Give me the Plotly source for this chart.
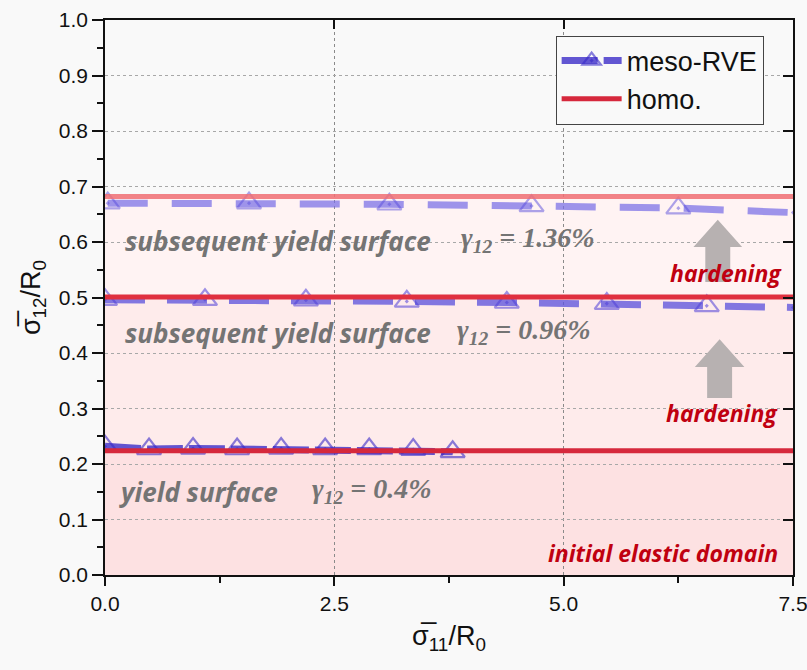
import plotly.graph_objects as go

# ---------------- data ----------------
# meso-RVE, gamma12 = 0.4 %
x_bot = [0.0, 0.48, 0.96, 1.44, 1.92, 2.40, 2.88, 3.36, 3.79]
y_bot = [0.232, 0.227, 0.228, 0.227, 0.228, 0.227, 0.227, 0.226, 0.222]
m_bot = [1, 1, 1, 1, 1, 1, 1, 1, 1]
# meso-RVE, gamma12 = 0.96 %
x_mid = [0.0, 1.09, 2.19, 3.29, 4.38, 5.47, 6.56, 7.5]
y_mid = [0.496, 0.496, 0.495, 0.493, 0.491, 0.489, 0.485, 0.482]
m_mid = [1, 1, 1, 1, 1, 1, 1, 0]
# meso-RVE, gamma12 = 1.36 %
x_top = [0.03, 1.57, 3.10, 4.65, 6.25, 7.5]
y_top = [0.670, 0.670, 0.668, 0.665, 0.661, 0.653]
m_top = [1, 1, 1, 1, 1, 0]
# homogenised yield levels
homo_x = [0.0, 7.5]
homo_levels = [0.224, 0.501, 0.682]

x_ticks = [0.0, 2.5, 5.0, 7.5]
y_ticks = [0.0, 0.1, 0.2, 0.3, 0.4, 0.5, 0.6, 0.7, 0.8, 0.9, 1.0]

BG = "#f9f9f9"
FONT = "Liberation Sans, Arial, sans-serif"

fig = go.Figure()

meso_sets = [
    (x_bot, y_bot, m_bot, "rgba(60,45,200,0.80)", "rgba(55,40,200,0.85)", "36px,6px", True),
    (x_mid, y_mid, m_mid, "rgba(95,85,220,0.78)", "rgba(80,65,215,0.80)", "40px,22px", False),
    (x_top, y_top, m_top, "rgba(120,110,230,0.72)", "rgba(90,80,220,0.72)", "40px,24px", False),
]
for xs, ys, ms, lc, mc, dash, show in meso_sets:
    fig.add_trace(go.Scatter(
        x=xs, y=ys, mode="lines+markers", name="meso-RVE",
        legendgroup="meso", showlegend=show,
        line=dict(color=lc, width=7, dash=dash),
        marker=dict(symbol="triangle-up-open-dot", size=[21 * m for m in ms],
                    color=mc, line=dict(color=mc, width=2.2)),
    ))

homo_colors = ["#d6283c", "#e0303f", "rgba(240,110,115,0.85)"]
for i, (lev, col) in enumerate(zip(homo_levels, homo_colors)):
    fig.add_trace(go.Scatter(
        x=homo_x, y=[lev, lev], mode="lines", name="homo.",
        legendgroup="homo", showlegend=(i == 0),
        line=dict(color=col, width=5),
    ))

# invisible trace for mirrored (inside-tick) axes
fig.add_trace(go.Scatter(x=[0], y=[0], xaxis="x2", yaxis="y2", mode="markers",
                         marker=dict(opacity=0), showlegend=False, hoverinfo="skip"))

# background shading bounded by homogenised levels
shade_cols = ["#fde1e2", "#feebeb", "#fff3f3"]
lower = [0.0] + homo_levels[:-1]
shapes = []
for lo, hi, c in zip(lower, homo_levels, shade_cols):
    shapes.append(dict(type="rect", xref="x", yref="y", x0=homo_x[0], x1=homo_x[1],
                       y0=lo, y1=hi, fillcolor=c, line=dict(width=0), layer="below"))


def up_arrow(xc, y_tip, y_head, y_base, hw, sw):
    p = (f"M{xc - sw},{y_base} L{xc - sw},{y_head} L{xc - hw},{y_head} L{xc},{y_tip} "
         f"L{xc + hw},{y_head} L{xc + sw},{y_head} L{xc + sw},{y_base} Z")
    return dict(type="path", xref="x", yref="y", path=p, fillcolor="#b7b1b1",
                line=dict(width=0), layer="above")


shapes.append(up_arrow(6.68, 0.640, 0.591, 0.528, 0.265, 0.136))
shapes.append(up_arrow(6.70, 0.425, 0.375, 0.319, 0.27, 0.136))

GREY = "#747474"
ann = []


def txt(x, y, s, color, size, family, xanchor="left"):
    ann.append(dict(x=x, y=y, xref="x", yref="y", text=s, showarrow=False,
                    xanchor=xanchor, yanchor="middle",
                    font=dict(color=color, size=size, family=family)))


SANS_BI = "Open Sans, Liberation Sans, sans-serif"
SERIF = "Times New Roman, Liberation Serif, serif"
txt(0.20, 0.602, "<b><i>subsequent yield surface</i></b>", GREY, 26, SANS_BI)
txt(3.86, 0.605, "<b><i>γ<sub>12</sub> = 1.36%</i></b>", GREY, 28, SERIF)
txt(0.20, 0.436, "<b><i>subsequent yield surface</i></b>", GREY, 26, SANS_BI)
txt(3.82, 0.439, "<b><i>γ<sub>12</sub> = 0.96%</i></b>", GREY, 28, SERIF)
txt(0.13, 0.150, "<b><i>yield surface</i></b>", GREY, 26, SANS_BI)
txt(2.24, 0.153, "<b><i>γ<sub>12</sub> = 0.4%</i></b>", GREY, 28, SERIF)
RED = "#c00010"
txt(7.40, 0.544, "<b><i>hardening</i></b>", RED, 23, SANS_BI, "right")
txt(7.36, 0.292, "<b><i>hardening</i></b>", RED, 23, SANS_BI, "right")
txt(7.36, 0.040, "<b><i>initial elastic domain</i></b>", RED, 23, SANS_BI, "right")

fig.update_layout(
    width=807, height=670,
    margin=dict(l=105, r=14, t=20, b=95, autoexpand=False),
    paper_bgcolor=BG, plot_bgcolor=BG,
    font=dict(family=FONT, color="#111"),
    shapes=shapes, annotations=ann,
    showlegend=True,
    legend=dict(x=0.655, y=0.972, xanchor="left", yanchor="top",
                bgcolor=BG, bordercolor="#444", borderwidth=1,
                font=dict(size=27, family=FONT, color="#111"),
                itemwidth=60, tracegroupgap=0),
    xaxis=dict(range=[0, 7.5], tickvals=x_ticks, ticktext=[f"{v:.1f}" for v in x_ticks],
               ticks="outside", ticklen=9, tickwidth=1.5, tickcolor="#111",
               ticklabeloverflow="allow", automargin=False,
               showline=True, linecolor="#111", linewidth=1.5,
               showgrid=True, gridcolor="#8a8a8a", griddash="dot", gridwidth=1,
               zeroline=False, tickfont=dict(size=21),
               minor=dict(dtick=1.25, tick0=0, ticks="outside", ticklen=6,
                          tickcolor="#111", tickwidth=1.5, showgrid=False),
               title=dict(text="σ\u0305<sub>11</sub>/R<sub>0</sub>", font=dict(size=27),
                          standoff=12)),
    yaxis=dict(range=[0, 1.0], tickvals=y_ticks, ticktext=[f"{v:.1f}" for v in y_ticks],
               ticks="outside", ticklen=11, tickwidth=1.5, tickcolor="#111",
               automargin=False,
               showline=True, linecolor="#111", linewidth=1.5,
               showgrid=True, gridcolor="#a8a8a8", griddash="dot", gridwidth=1,
               zeroline=False, tickfont=dict(size=21),
               minor=dict(dtick=0.05, tick0=0, ticks="outside", ticklen=6,
                          tickcolor="#111", tickwidth=1.5, showgrid=False),
               title=dict(text="σ\u0305<sub>12</sub>/R<sub>0</sub>", font=dict(size=27),
                          standoff=10)),
    xaxis2=dict(overlaying="x", side="top", range=[0, 7.5], tickvals=x_ticks,
                ticks="inside", ticklen=9, tickwidth=1.5, tickcolor="#111",
                showticklabels=False, showline=True, linecolor="#111", linewidth=1.5,
                showgrid=False, zeroline=False, automargin=False),
    yaxis2=dict(overlaying="y", side="right", range=[0, 1.0], tickvals=y_ticks,
                ticks="inside", ticklen=10, tickwidth=1.5, tickcolor="#111",
                showticklabels=False, showline=True, linecolor="#111", linewidth=1.5,
                showgrid=False, zeroline=False, automargin=False),
)

fig.write_html("out.html")
